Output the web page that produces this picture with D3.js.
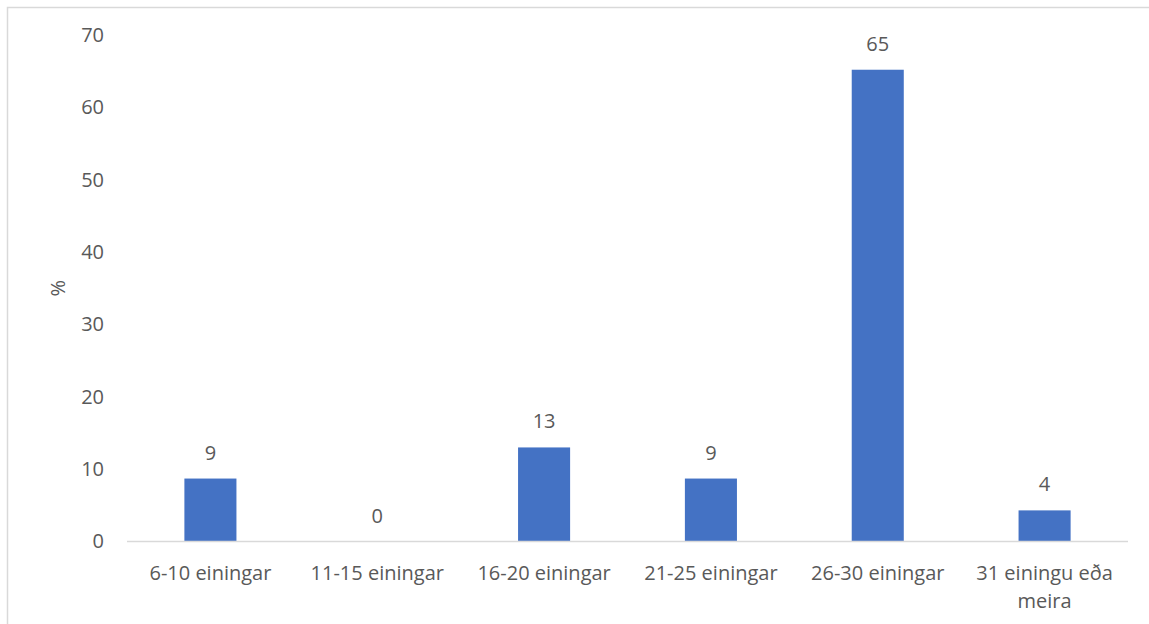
<!DOCTYPE html>
<html>
<head>
<meta charset="utf-8">
<script src="https://cdn.jsdelivr.net/npm/d3@7"></script>
<style>
  body { margin: 0; background: #fff; }
  svg text { font-family: "Open Sans", "Liberation Sans", sans-serif; fill: #595959; }
</style>
</head>
<body>
<svg id="chart"></svg>
<script>
// categories and values
var categories = ["6-10 einingar", "11-15 einingar", "16-20 einingar", "21-25 einingar", "26-30 einingar", "31 einingu eða meira"];
var values = [8.7, 0, 13.0, 8.7, 65.2, 4.3];
var yTicks = [0, 10, 20, 30, 40, 50, 60, 70];
var yLabel = "%";

var width = 1149, height = 624;
var fontSize = "20px";
var svg = d3.select("#chart").attr("width", width).attr("height", height);

// chart frame (light gray, only top and left visible)
svg.append("rect")
    .attr("x", 7.5).attr("y", 7.5)
    .attr("width", width + 10).attr("height", height + 10)
    .attr("fill", "none")
    .attr("stroke", "#d9d9d9")
    .attr("stroke-width", 1.5);

var plotLeft = 127, plotRight = 1128, plotTop = 35, plotBottom = 541.5;

var xScale = d3.scaleBand()
    .domain(categories)
    .range([plotLeft, plotRight])
    .paddingInner(0.688)
    .paddingOuter(0.344);

var yScale = d3.scaleLinear()
    .domain([0, 70])
    .range([plotBottom, plotTop]);

// y axis: labels only
var yAxis = d3.axisLeft(yScale).tickValues(yTicks).tickSize(0).tickPadding(0);
var gy = svg.append("g")
    .attr("transform", "translate(" + 104 + ",0)")
    .call(yAxis);
gy.select(".domain").remove();
gy.selectAll("text")
    .style("font-size", fontSize)
    .attr("fill", "#595959")
    .attr("text-anchor", "end");

// bars
svg.append("g").selectAll("rect")
    .data(values)
    .enter()
    .append("rect")
    .attr("x", function (d, i) { return xScale(categories[i]); })
    .attr("y", function (d) { return yScale(d); })
    .attr("width", xScale.bandwidth())
    .attr("height", function (d) { return plotBottom - yScale(d); })
    .attr("fill", "#4472c4");

// baseline
svg.append("line")
    .attr("x1", plotLeft).attr("x2", plotRight)
    .attr("y1", plotBottom).attr("y2", plotBottom)
    .attr("stroke", "#d9d9d9")
    .attr("stroke-width", 1.5);

// x axis labels (wrapped)
var xAxis = d3.axisBottom(xScale).tickSize(0).tickPadding(0);
var gx = svg.append("g")
    .attr("transform", "translate(0," + plotBottom + ")")
    .call(xAxis);
gx.select(".domain").remove();
gx.selectAll("text")
    .style("font-size", fontSize)
    .attr("fill", "#595959")
    .attr("y", 0)
    .attr("dy", null)
    .each(function (d) {
        var t = d3.select(this);
        var lines = d.length > 16 ? ["31 einingu eða", "meira"] : [d];
        t.text(null);
        lines.forEach(function (line, k) {
            t.append("tspan")
                .attr("x", 0)
                .attr("y", 38.5 + k * 28)
                .text(line);
        });
    });

// data labels
svg.append("g").selectAll("text")
    .data(values)
    .enter()
    .append("text")
    .attr("x", function (d, i) { return xScale(categories[i]) + xScale.bandwidth() / 2; })
    .attr("y", function (d) { return yScale(d) - 19; })
    .attr("text-anchor", "middle")
    .style("font-size", fontSize)
    .text(function (d) { return d3.format(".0f")(d); });

// y axis title
svg.append("text")
    .attr("transform", "translate(65," + ((plotTop + plotBottom) / 2) + ") rotate(-90)")
    .attr("text-anchor", "middle")
    .style("font-size", fontSize)
    .text(yLabel);
</script>
</body>
</html>
